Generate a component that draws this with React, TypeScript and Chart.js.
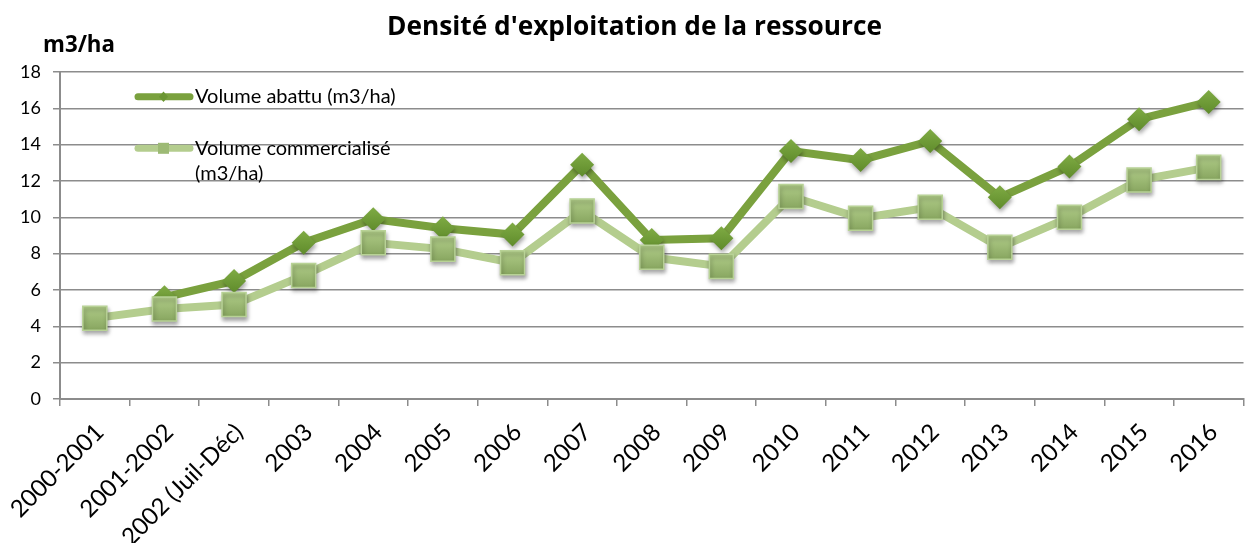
import React, { useEffect, useRef } from 'react';
import { Chart, registerables } from 'chart.js';

Chart.register(...registerables);

const TITLE = "Densité d'exploitation de la ressource";
const Y_TITLE = 'm3/ha';

const categories = [
  '2000-2001', '2001-2002', '2002 (Juil-Déc)', '2003', '2004', '2005', '2006', '2007',
  '2008', '2009', '2010', '2011', '2012', '2013', '2014', '2015', '2016',
];

const volumeAbattuLabel = 'Volume abattu (m3/ha)';
const volumeAbattu = [
  null, 5.6, 6.5, 8.6, 9.9, 9.4, 9.05, 12.9, 8.75, 8.85, 13.65, 13.15, 14.2, 11.1, 12.8, 15.4, 16.35,
];

const volumeCommercialiseLabel = ['Volume commercialisé', '(m3/ha)'];
const volumeCommercialise = [
  4.45, 4.95, 5.2, 6.8, 8.6, 8.25, 7.5, 10.35, 7.8, 7.3, 11.15, 9.95, 10.55, 8.35, 10.0, 12.05, 12.75,
];

const yTicks = { min: 0, max: 18, step: 2 };

const DARK_LINE = '#7aa13e';
const LIGHT_LINE = '#b4cd8e';

function markerGradient(ctx: any, top: string, bottom: string, r: number) {
  const chart = ctx.chart;
  if (ctx.type !== 'data' || ctx.parsed == null || ctx.parsed.y == null) return top;
  const sc = chart.scales && chart.scales.y;
  if (!sc) return top;
  const y = sc.getPixelForValue(ctx.parsed.y);
  if (!Number.isFinite(y)) return top;
  const g = chart.ctx.createLinearGradient(0, y - r, 0, y + r);
  g.addColorStop(0, top);
  g.addColorStop(1, bottom);
  return g;
}

function fitFont(ctx: CanvasRenderingContext2D, text: string, weight: string, family: string, width: number) {
  ctx.font = `${weight} 100px ${family}`;
  const w = ctx.measureText(text).width;
  const size = (100 * width) / w;
  ctx.font = `${weight} ${size.toFixed(2)}px ${family}`;
}

// Draw each line first without shadow, then its markers with a soft drop shadow.
const markerShadowPlugin = {
  id: 'markerShadow',
  beforeDatasetDraw(chart: any, args: any) {
    const meta = args.meta;
    const ctx = chart.ctx as CanvasRenderingContext2D;
    ctx.save();
    if (meta.dataset) meta.dataset.draw(ctx, chart.chartArea);
    ctx.shadowColor = 'rgba(0,0,0,0.35)';
    ctx.shadowBlur = 4;
    ctx.shadowOffsetX = 1;
    ctx.shadowOffsetY = 3;
    for (const el of meta.data) {
      if (!el.skip) el.draw(ctx, chart.chartArea);
    }
    ctx.restore();
    return false;
  },
};

const overlayPlugin = {
  id: 'overlay',
  afterDraw(chart: any) {
    const ctx = chart.ctx as CanvasRenderingContext2D;
    ctx.save();
    ctx.fillStyle = '#000';
    ctx.textBaseline = 'alphabetic';
    ctx.textAlign = 'left';
    fitFont(ctx, TITLE, 'bold', '"Open Sans"', 495);
    ctx.fillText(TITLE, 387, 35);
    fitFont(ctx, Y_TITLE, 'bold', '"Open Sans"', 72);
    ctx.fillText(Y_TITLE, 43, 52);

    // legend
    ctx.lineCap = 'round';
    ctx.lineWidth = 7;
    ctx.strokeStyle = DARK_LINE;
    ctx.beginPath();
    ctx.moveTo(138, 96.7);
    ctx.lineTo(190, 96.7);
    ctx.stroke();
    ctx.fillStyle = '#6b9632';
    ctx.beginPath();
    ctx.moveTo(163.5, 91.5);
    ctx.lineTo(168, 96.7);
    ctx.lineTo(163.5, 101.9);
    ctx.lineTo(159, 96.7);
    ctx.closePath();
    ctx.fill();

    ctx.strokeStyle = LIGHT_LINE;
    ctx.beginPath();
    ctx.moveTo(138, 148.3);
    ctx.lineTo(190, 148.3);
    ctx.stroke();
    ctx.fillStyle = '#9dba75';
    ctx.fillRect(158, 142.8, 11, 11);

    ctx.fillStyle = '#000';
    ctx.textBaseline = 'middle';
    ctx.font = '20px Lato';
    ctx.fillText(volumeAbattuLabel, 195, 97);
    ctx.fillText(volumeCommercialiseLabel[0], 195, 148.5);
    ctx.fillText(volumeCommercialiseLabel[1], 195, 174);
    ctx.restore();
  },
};

export default function App() {
  const ref = useRef<HTMLCanvasElement>(null);
  useEffect(() => {
    document.body.style.margin = '0';
    const chart = new Chart(ref.current as HTMLCanvasElement, {
      type: 'line',
      data: {
        labels: categories,
        datasets: [
          {
            label: volumeAbattuLabel,
            data: volumeAbattu,
            order: 1,
            borderColor: DARK_LINE,
            borderWidth: 8,
            pointStyle: 'rectRot',
            pointRadius: 12,
            pointBorderWidth: 0,
            pointBorderColor: 'rgba(0,0,0,0)',
            pointBackgroundColor: (c: any) => markerGradient(c, '#7fab44', '#5f8b2b', 12),
            spanGaps: false,
            tension: 0,
          },
          {
            label: volumeCommercialiseLabel.join(' '),
            data: volumeCommercialise,
            order: 0,
            borderColor: LIGHT_LINE,
            borderWidth: 8,
            pointStyle: 'rect',
            pointRadius: 17,
            pointBorderWidth: 1.5,
            pointBorderColor: '#b8d296',
            pointBackgroundColor: (c: any) => markerGradient(c, '#b0cc88', '#88a660', 12),
            tension: 0,
          },
        ],
      },
      options: {
        responsive: true,
        maintainAspectRatio: false,
        animation: false,
        events: [],
        layout: { padding: { top: 72, right: 3, left: 0, bottom: 0 } },
        plugins: {
          legend: { display: false },
          title: { display: false },
          tooltip: { enabled: false },
        },
        scales: {
          x: {
            offset: true,
            grid: {
              offset: true,
              drawOnChartArea: false,
              color: '#8c8c8c',
              lineWidth: 1.5,
              tickLength: 7,
            },
            border: { color: '#8c8c8c', width: 2 },
            ticks: {
              autoSkip: false,
              maxRotation: 45,
              minRotation: 45,
              color: '#000',
              font: { family: 'Lato', size: 24 },
              padding: 12,
              labelOffset: 5,
            },
            afterFit: (s: any) => {
              s.height = 144;
              s.paddingLeft = 0;
              s.paddingRight = 0;
            },
          },
          y: {
            min: yTicks.min,
            max: yTicks.max,
            ticks: {
              stepSize: yTicks.step,
              color: '#000',
              font: { family: 'Lato', size: 18 },
              padding: 12,
            },
            grid: { color: '#8c8c8c', lineWidth: 1.5, tickLength: 7 },
            border: { color: '#8c8c8c', width: 2 },
            afterFit: (s: any) => {
              s.width = 60;
            },
          },
        },
      },
      plugins: [markerShadowPlugin, overlayPlugin],
    });
    return () => chart.destroy();
  }, []);
  return (
    <div
      style={{
        position: 'absolute',
        left: 0,
        top: 0,
        width: 1252,
        height: 543,
        overflow: 'hidden',
        background: '#fff',
      }}
    >
      <div style={{ position: 'relative', width: 1262, height: 543 }}>
        <canvas ref={ref} />
      </div>
    </div>
  );
}
